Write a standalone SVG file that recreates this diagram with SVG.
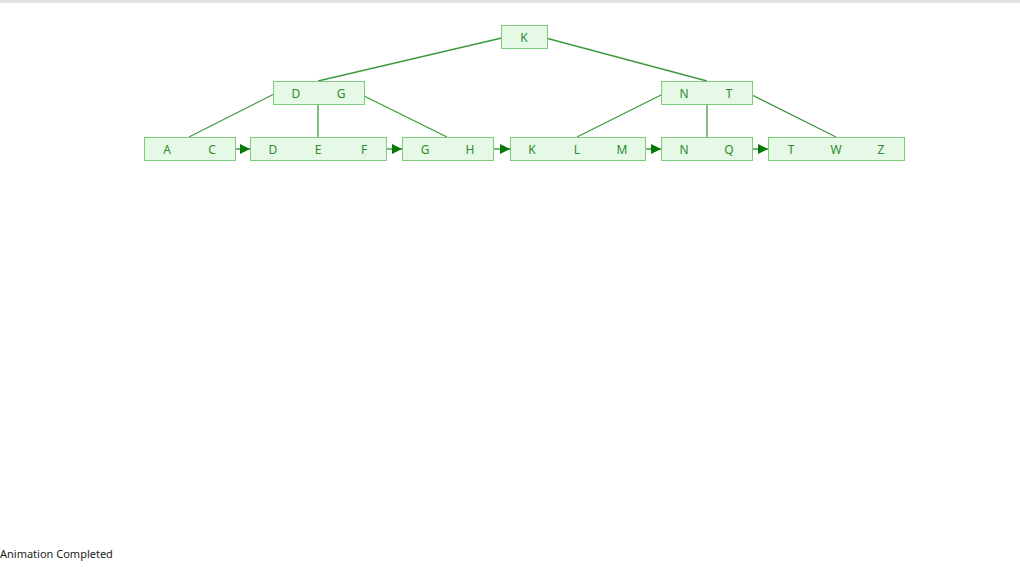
<svg xmlns="http://www.w3.org/2000/svg" width="1020" height="568" viewBox="0 0 1020 568">
<defs>
<style>
.box{fill:#e6f8e6;stroke:#7ccc7c;stroke-width:1}
.k{font-family:"Noto Sans","Open Sans",sans-serif;font-size:12px;fill:#2f8a2f;text-anchor:middle;dominant-baseline:central}
.e{stroke:#3c9a3c;stroke-width:1.3;fill:none}
.a{stroke:#2e8b2e;stroke-width:1.3;fill:none}
.status{font-family:"Noto Sans","Open Sans",sans-serif;font-size:11px;fill:#222}
</style>
<marker id="ah" viewBox="0 0 10 10" refX="10" refY="5" markerWidth="10" markerHeight="10" markerUnits="userSpaceOnUse" orient="auto">
<path d="M0,0 L10,5 L0,10 z" fill="#007a00"/>
</marker>
</defs>
<rect x="0" y="0" width="1020" height="568" fill="#ffffff"/>
<rect x="0" y="0" width="1020" height="3" fill="#e0e0e0"/>
<g id="connectors">
<line class="e" x1="506" y1="37" x2="318" y2="81"/>
<line class="e" x1="542" y1="37" x2="707" y2="81"/>
<line class="e" x1="276" y1="93" x2="189" y2="137"/>
<line class="e" x1="318" y1="93" x2="318" y2="137"/>
<line class="e" x1="358" y1="93" x2="447" y2="137"/>
<line class="e" x1="665" y1="93" x2="577" y2="137"/>
<line class="e" x1="707" y1="93" x2="707" y2="137"/>
<line class="e" x1="748" y1="93" x2="836" y2="137"/>
<line class="a" x1="229" y1="149" x2="250" y2="149" marker-end="url(#ah)"/>
<line class="a" x1="381" y1="149" x2="402" y2="149" marker-end="url(#ah)"/>
<line class="a" x1="488" y1="149" x2="510" y2="149" marker-end="url(#ah)"/>
<line class="a" x1="640" y1="149" x2="661" y2="149" marker-end="url(#ah)"/>
<line class="a" x1="746" y1="149" x2="768" y2="149" marker-end="url(#ah)"/>
</g>
<g id="node-K">
<rect class="box" x="501.5" y="25.5" width="46" height="23"/>
<text class="k" x="524" y="37">K</text>
</g>
<g id="node-DG">
<rect class="box" x="273.5" y="81.5" width="91" height="23"/>
<text class="k" x="296" y="93">D</text>
<text class="k" x="341" y="93">G</text>
</g>
<g id="node-NT">
<rect class="box" x="661.5" y="81.5" width="91" height="23"/>
<text class="k" x="684" y="93">N</text>
<text class="k" x="729" y="93">T</text>
</g>
<g id="leaf-AC">
<rect class="box" x="144.5" y="137.5" width="91" height="23"/>
<text class="k" x="167" y="149">A</text>
<text class="k" x="212" y="149">C</text>
</g>
<g id="leaf-DEF">
<rect class="box" x="250.5" y="137.5" width="136" height="23"/>
<text class="k" x="273" y="149">D</text>
<text class="k" x="318" y="149">E</text>
<text class="k" x="364" y="149">F</text>
</g>
<g id="leaf-GH">
<rect class="box" x="402.5" y="137.5" width="91" height="23"/>
<text class="k" x="425" y="149">G</text>
<text class="k" x="470" y="149">H</text>
</g>
<g id="leaf-KLM">
<rect class="box" x="510.5" y="137.5" width="135" height="23"/>
<text class="k" x="532" y="149">K</text>
<text class="k" x="577" y="149">L</text>
<text class="k" x="622" y="149">M</text>
</g>
<g id="leaf-NQ">
<rect class="box" x="661.5" y="137.5" width="91" height="23"/>
<text class="k" x="684" y="149">N</text>
<text class="k" x="729" y="149">Q</text>
</g>
<g id="leaf-TWZ">
<rect class="box" x="768.5" y="137.5" width="136" height="23"/>
<text class="k" x="791" y="149">T</text>
<text class="k" x="836" y="149">W</text>
<text class="k" x="881" y="149">Z</text>
</g>
<text class="status" x="0" y="558">Animation Completed</text>
</svg>
